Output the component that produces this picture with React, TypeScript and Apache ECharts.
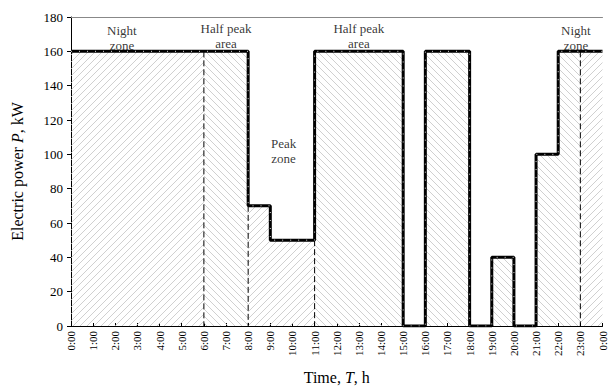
import React, { useEffect, useRef } from "react";
import * as echarts from "echarts";

// Step profile: power held from each hour until the next one
const stepHours = [0, 8, 9, 11, 15, 16, 18, 19, 20, 21, 22, 24];
const stepPower = [160, 70, 50, 160, 0, 160, 0, 40, 0, 100, 160, 160];

// Tariff zones (hatch direction per zone)
const zoneBounds = [0, 6, 8, 11, 23, 24];
const zoneHatch = ["/", "\\", "/", "\\", "/"];

// Zone annotations: [hour, power, text]
const zoneLabels: [number, number, string][] = [
  [2.3, 167.5, "Night\nzone"],
  [7.0, 169, "Half peak\narea"],
  [13.0, 169, "Half peak\narea"],
  [22.8, 167.5, "Night\nzone"],
  [9.6, 102, "Peak\nzone"],
];

const yTicks = [0, 20, 40, 60, 80, 100, 120, 140, 160, 180];

function valueAt(h: number): number {
  let v = stepPower[0];
  for (let i = 0; i < stepHours.length; i++) {
    if (stepHours[i] <= h) v = stepPower[i];
  }
  return v;
}

function buildIntervals() {
  const cuts = Array.from(new Set([...stepHours, ...zoneBounds])).sort((a, b) => a - b);
  const out: [number, number, number, number][] = [];
  for (let i = 0; i < cuts.length - 1; i++) {
    const a = cuts[i], b = cuts[i + 1];
    const v = valueAt(a);
    if (v <= 0) continue;
    let z = 0;
    for (let k = 0; k < zoneBounds.length - 1; k++) {
      if (a >= zoneBounds[k] && a < zoneBounds[k + 1]) z = k;
    }
    out.push([a, b, v, zoneHatch[z] === "/" ? 0 : 1]);
  }
  return out;
}

function buildDashes() {
  const out: [number, number][] = [];
  for (let k = 1; k < zoneBounds.length - 1; k++) {
    const b = zoneBounds[k];
    const left = valueAt(b - 0.001);
    const right = valueAt(b);
    out.push([b, Math.min(left, right)]);
  }
  return out;
}

const SERIF = "Liberation Serif";
const rs = (size: number, extra: any = {}) => ({ fontFamily: SERIF, fontSize: size, color: "#000", ...extra });

export default function App() {
  const ref = useRef<HTMLDivElement>(null);
  useEffect(() => {
    document.body.style.margin = "0";
    if (!ref.current) return;
    const chart = echarts.init(ref.current, null, { renderer: "svg" });
    const stepData = stepHours.map((h, i) => [h, stepPower[i]]);
    const intervals = buildIntervals();
    const dashes = buildDashes();
    const gap = 7;

    chart.setOption({
      animation: false,
      backgroundColor: "#fff",
      textStyle: { fontFamily: SERIF },
      grid: { left: 71, right: 5, top: 17, bottom: 59 },
      xAxis: [
        {
          type: "value",
          min: 0,
          max: 24,
          interval: 1,
          position: "bottom",
          axisLine: { lineStyle: { color: "#000", width: 1 } },
          axisTick: { show: true, inside: true, length: 3, lineStyle: { color: "#000" } },
          splitLine: { show: false },
          axisLabel: {
            rotate: 90,
            fontFamily: SERIF,
            fontSize: 11,
            color: "#000",
            margin: 5,
            formatter: (v: number) => `{t|${v % 24}:00}`,
            rich: { t: rs(11) },
          },
          name: "{a|Time, }{b|T}{a|, h}",
          nameLocation: "middle",
          nameGap: 43,
          nameTextStyle: {
            fontFamily: SERIF,
            rich: { a: rs(16), b: rs(16, { fontStyle: "italic" }) },
          },
        },
        {
          type: "value",
          min: 0,
          max: 24,
          position: "top",
          axisLine: { show: true, lineStyle: { color: "#888", width: 1 } },
          axisTick: { show: false },
          axisLabel: { show: false },
          splitLine: { show: false },
        },
      ],
      yAxis: {
        type: "value",
        min: yTicks[0],
        max: yTicks[yTicks.length - 1],
        interval: 20,
        axisLine: { show: true, lineStyle: { color: "#000", width: 1 } },
        axisTick: { show: true, length: 4, lineStyle: { color: "#000" } },
        splitLine: { show: false },
        axisLabel: {
          fontFamily: SERIF,
          fontSize: 13,
          color: "#000",
          margin: 8,
          formatter: (v: number) => `{t|${v}}`,
          rich: { t: rs(13) },
        },
        name: "{a|Electric power }{b|P}{a|, kW}",
        nameLocation: "middle",
        nameGap: 46,
        nameTextStyle: {
          fontFamily: SERIF,
          rich: { a: rs(16), b: rs(16, { fontStyle: "italic" }) },
        },
      },
      series: [
        {
          type: "custom",
          data: intervals,
          encode: { x: [0, 1], y: 2 },
          z: 1,
          silent: true,
          renderItem: (params: any, api: any) => {
            const p0 = api.coord([api.value(0), api.value(2)]);
            const p1 = api.coord([api.value(1), 0]);
            const x0 = p0[0], y0 = p0[1], x1 = p1[0], y1 = p1[1];
            const dir = api.value(3);
            const children: any[] = [];
            if (dir === 0) {
              const cStart = Math.ceil((x0 + y0) / gap) * gap;
              for (let c = cStart; c <= x1 + y1; c += gap) {
                const xa = Math.max(x0, c - y1);
                const xb = Math.min(x1, c - y0);
                if (xb > xa) {
                  children.push({
                    type: "line",
                    shape: { x1: xa, y1: c - xa, x2: xb, y2: c - xb },
                    style: { stroke: "#c4c4c4", lineWidth: 0.8 },
                  });
                }
              }
            } else {
              const cStart = Math.ceil((x0 - y1) / gap) * gap;
              for (let c = cStart; c <= x1 - y0; c += gap) {
                const xa = Math.max(x0, y0 + c);
                const xb = Math.min(x1, y1 + c);
                if (xb > xa) {
                  children.push({
                    type: "line",
                    shape: { x1: xa, y1: xa - c, x2: xb, y2: xb - c },
                    style: { stroke: "#c4c4c4", lineWidth: 0.8 },
                  });
                }
              }
            }
            return { type: "group", children };
          },
        },
        {
          type: "custom",
          data: dashes,
          encode: { x: 0, y: 1 },
          z: 2,
          silent: true,
          renderItem: (params: any, api: any) => {
            const top = api.coord([api.value(0), api.value(1)]);
            const bot = api.coord([api.value(0), 0]);
            return {
              type: "line",
              shape: { x1: top[0], y1: top[1], x2: bot[0], y2: bot[1] },
              style: { stroke: "#000", lineWidth: 1, lineDash: [6, 3] },
            };
          },
        },
        {
          type: "line",
          data: stepData,
          step: "end",
          symbol: "none",
          z: 3,
          silent: true,
          lineStyle: { color: "#000", width: 3 },
        },
        {
          type: "line",
          data: stepData,
          step: "end",
          symbol: "none",
          z: 4,
          silent: true,
          lineStyle: { color: "#ddd", width: 1, type: [1, 7] },
        },
        {
          type: "scatter",
          data: zoneLabels.map((d) => [d[0], d[1], d[2]]),
          symbolSize: 0,
          z: 5,
          silent: true,
          label: {
            show: true,
            position: "inside",
            formatter: (p: any) =>
              String(p.data[2])
                .split("\n")
                .map((s) => `{t|${s}}`)
                .join("\n"),
            rich: { t: rs(13, { lineHeight: 15, align: "center" }) },
            fontFamily: SERIF,
            fontSize: 13,
            color: "#000",
            lineHeight: 15,
            align: "center",
          },
        },
      ],
    });
    return () => chart.dispose();
  }, []);
  return <div ref={ref} style={{ width: 608, height: 390 }} />;
}
